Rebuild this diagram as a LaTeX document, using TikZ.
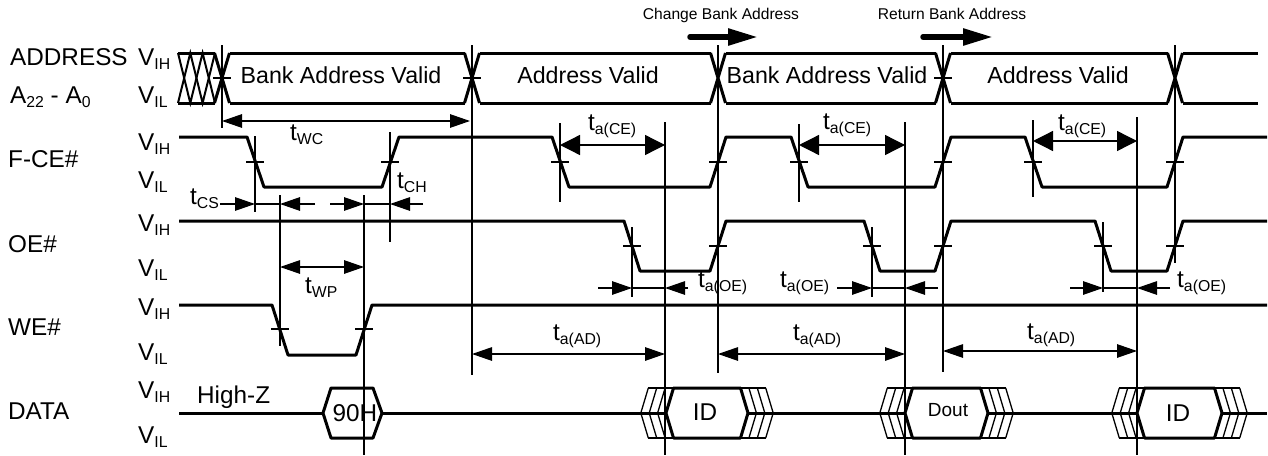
\documentclass[tikz,border=0pt]{standalone}
\usepackage{fontspec}
\setmainfont{Liberation Sans}
\usetikzlibrary{arrows.meta}
\newcommand{\mysub}[1]{\raisebox{-4.5pt}{\fontsize{15.8}{16}\selectfont #1}}
% hexagon with chevrons: #1 left vertex x, #2 right vertex x
\newcommand{\chevhex}[2]{%
  \draw[thk] (#1,413) -- ({#1+7.5},388) -- ({#2-7.5},388) -- (#2,413) -- ({#2-7.5},438) -- ({#1+7.5},438) -- cycle;
  \foreach \k in {1,2,3} {
    \draw[thn] ({#1-8.4*\k+7.5},388) -- ({#1-8.4*\k},413) -- ({#1-8.4*\k+7.5},438);
    \draw[thn] ({#2+8.4*\k-7.5},388) -- ({#2+8.4*\k},413) -- ({#2+8.4*\k-7.5},438);
  }
  \draw[thn] ({#1-25.2+7.5},388) -- ({#1+7.5},388) ({#1-25.2+7.5},438) -- ({#1+7.5},438);
  \draw[thn] ({#2-7.5},388) -- ({#2+25.2-7.5},388) ({#2-7.5},438) -- ({#2+25.2-7.5},438);
}
\begin{document}
\begin{tikzpicture}[x=1pt,y=-1pt,
  >={Triangle[length=20pt,width=13.5pt]},
  thk/.style={line width=3pt, line join=round},
  thn/.style={line width=1.3pt},
  wide/.style={{Triangle[length=20pt,width=20pt]}-{Triangle[length=20pt,width=20pt]}},
  lbl/.style={inner sep=0pt, font=\fontsize{24.3}{26}\selectfont},
  buslbl/.style={inner sep=0pt, font=\fontsize{23.2}{26}\selectfont},
  sml/.style={inner sep=0pt, font=\fontsize{15.6}{18}\selectfont},
  bigarrow/.style={line width=5.5pt, line cap=round, -{Triangle[length=30pt,width=16pt]}}
]
\useasboundingbox (0,0) rectangle (1268,455);
\fill[white] (0,0) rectangle (1268,455);

% ---------------- signal names and levels ----------------
\node[lbl,anchor=base west] (nADDR) at (10,65) {ADDRESS};
\node[lbl,anchor=base west] (nA) at (10,103) {A\mysub{22} - A\mysub{0}};
\node[lbl,anchor=base west] (nCE) at (8,167) {F-CE\#};
\node[lbl,anchor=base west] (nOE) at (8,252) {OE\#};
\node[lbl,anchor=base west] (nWE) at (8,335) {WE\#};
\node[lbl,anchor=base west] (nDATA) at (8,419) {DATA};
\foreach \y [count=\i] in {65,150,231,315,398}
  \node[lbl,anchor=base west] (vih\i) at (138,\y) {V\mysub{IH}};
\foreach \y [count=\i] in {103,188,276,360,443}
  \node[lbl,anchor=base west] (vil\i) at (138,\y) {V\mysub{IL}};

% ---------------- ADDRESS bus ----------------
\draw[thk] (178,53)--(215,53) (178,103)--(215,103);
\draw[line width=2pt] (178,53)--(190.3,103)--(202.6,53)--(215,103);
\draw[line width=2pt] (178,103)--(190.3,53)--(202.6,103)--(215,53);
\foreach \t in {222,472,718,943,1175}
  \draw[thk] ({\t-7.5},53)--({\t+7.5},103) ({\t-7.5},103)--({\t+7.5},53);
\foreach \a/\b in {229.5/464.5, 479.5/710.5, 725.5/935.5, 950.5/1167.5, 1182.5/1258}
  \draw[thk] (\a,53)--(\b,53) (\a,103)--(\b,103);
\node[buslbl,anchor=base] (bav1) at (341,83) {Bank Address Valid};
\node[buslbl,anchor=base] (av1) at (588,83) {Address Valid};
\node[buslbl,anchor=base] (bav2) at (827,83) {Bank Address Valid};
\node[buslbl,anchor=base] (av2) at (1058,83) {Address Valid};

% bank arrows
\node[sml,anchor=base] (cba) at (721,19) {Change Bank Address};
\node[sml,anchor=base] (rba) at (952,19) {Return Bank Address};
\coordinate (cbs) at (690,37); \coordinate (cbe) at (758,37);
\coordinate (rbs) at (923,37); \coordinate (rbe) at (993,37);
\draw[bigarrow] (cbs) -- (cbe);
\draw[bigarrow] (rbs) -- (rbe);

% ---------------- waveforms ----------------
\draw[thk] (179,137) -- (247,137) -- (264,187) -- (382,187) -- (399,137) -- (552,137) -- (569,187)
  -- (710,187) -- (726,137) -- (791,137) -- (808,187) -- (935,187) -- (951,137) -- (1025,137)
  -- (1042,187) -- (1167,187) -- (1183,137) -- (1267,137);
\draw[thk] (179,221) -- (624,221) -- (640,271) -- (710,271) -- (726,221) -- (864,221) -- (880,271)
  -- (935,271) -- (951,221) -- (1095,221) -- (1111,271) -- (1167,271) -- (1183,221) -- (1267,221);
\draw[thk] (179,305) -- (272,305) -- (288,355) -- (356,355) -- (372,305) -- (1267,305);

% DATA
\draw[thk] (179,413) -- (323,413);
\draw[thk] (323,413) -- (331,388) -- (373,388) -- (382,413) -- (373,438) -- (331,438) -- cycle;
\draw[thk] (382,413) -- (666,413) (748,413) -- (905,413) (988,413) -- (1137,413) (1222,413) -- (1267,413);
\chevhex{666}{748}
\chevhex{905}{988}
\chevhex{1137}{1222}
\node[lbl,anchor=base west] (hz) at (197,403) {High-Z};
\node[lbl,anchor=base] (d90) at (355,421) {90H};
\node[lbl,anchor=base] (id1) at (705,420) {ID};
\node[inner sep=0pt,font=\fontsize{19}{20}\selectfont,anchor=base] (dout) at (948,416) {Dout};
\node[lbl,anchor=base] (id2) at (1178,421) {ID};

% ---------------- crossing ticks ----------------
\foreach \x in {222,472,943} \draw[thn] ({\x-9},78)--({\x+9},78);
\foreach \x in {255,390,560,718,799,943,1033,1175} \draw[thn] ({\x-9},162)--({\x+9},162);
\foreach \x in {632,718,872,943,1103,1175} \draw[thn] ({\x-9},246)--({\x+9},246);
\foreach \x in {280,364} \draw[thn] ({\x-9},329)--({\x+9},329);

% ---------------- reference verticals ----------------
\foreach \x/\a/\b in {222/45/128, 472/45/375, 718/45/373, 943/45/372, 1175/45/263,
   255/136/212, 390/132/242, 560/123/202, 799/124/202, 1033/120/197,
   665/122/455, 905/122/455, 1137/117/455, 280/195/346, 364/195/455,
   632/227/297, 872/227/297, 1103/222/292}
  \draw[thn] (\x,\a)--(\x,\b);

% ---------------- timing dimensions ----------------
\draw[thn,<->] (222,121) -- (470,121);
\node[lbl,anchor=base west] (twc) at (290,140) {t\mysub{WC}};

\node[lbl,anchor=base west] (tcs) at (190,204) {t\mysub{CS}};
\draw[thn,->] (220,204) -- (255,204);
\draw[thn] (255,204) -- (280,204);
\draw[thn,->] (315,204) -- (280,204);
\draw[thn,->] (330,204) -- (364,204);
\draw[thn] (364,204) -- (390,204);
\draw[thn,->] (423,204) -- (390,204);
\node[lbl,anchor=base west] (tch) at (397,188) {t\mysub{CH}};

\draw[thn,<->] (280,267) -- (364,267);
\node[lbl,anchor=base west] (twp) at (305,293) {t\mysub{WP}};

\draw[thn,wide] (560,145) -- (665,145);
\draw[thn,wide] (799,145) -- (905,145);
\draw[thn,wide] (1033,141) -- (1137,141);
\node[lbl,anchor=base west] (tce1) at (588,130) {t\mysub{a(CE)}};
\node[lbl,anchor=base west] (tce2) at (823,129) {t\mysub{a(CE)}};
\node[lbl,anchor=base west] (tce3) at (1058,130) {t\mysub{a(CE)}};

\draw[thn,->] (598,288) -- (632,288);
\draw[thn] (632,288) -- (665,288);
\draw[thn,->] (688,288) -- (665,288);
\draw[thn,->] (837,288) -- (872,288);
\draw[thn] (872,288) -- (905,288);
\draw[thn,->] (938,288) -- (905,288);
\draw[thn,->] (1070,288) -- (1103,288);
\draw[thn] (1103,288) -- (1137,288);
\draw[thn,->] (1170,288) -- (1137,288);
\node[lbl,anchor=base west] (toe1) at (698,287) {t\mysub{a(OE)}};
\node[lbl,anchor=base west] (toe2) at (780,287) {t\mysub{a(OE)}};
\node[lbl,anchor=base west] (toe3) at (1177,287) {t\mysub{a(OE)}};

\draw[thn,<->] (472,354) -- (665,354);
\draw[thn,<->] (718,354) -- (905,354);
\draw[thn,<->] (943,351) -- (1137,351);
\node[lbl,anchor=base west] (tad1) at (553,340) {t\mysub{a(AD)}};
\node[lbl,anchor=base west] (tad2) at (793,340) {t\mysub{a(AD)}};
\node[lbl,anchor=base west] (tad3) at (1027,339) {t\mysub{a(AD)}};
\end{tikzpicture}
\end{document}
